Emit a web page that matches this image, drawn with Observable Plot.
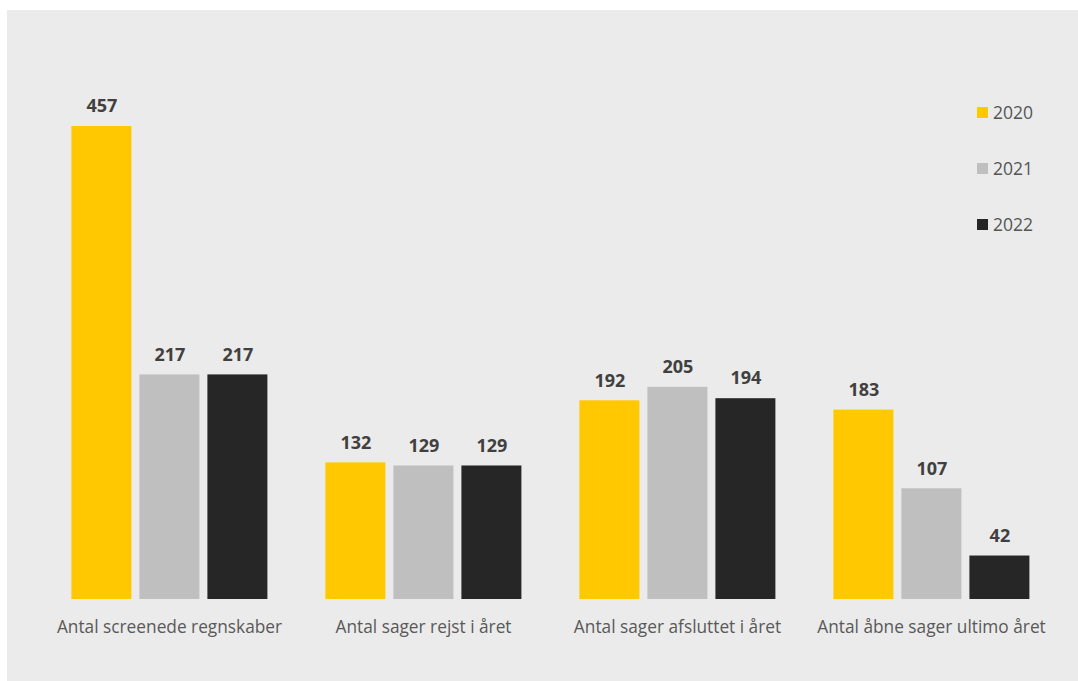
<!DOCTYPE html>
<html>
<head>
<meta charset="utf-8">
<script src="https://cdn.jsdelivr.net/npm/d3@7"></script>
<script src="https://cdn.jsdelivr.net/npm/@observablehq/plot@0.6"></script>
<style>
  html, body { margin: 0; padding: 0; background: #ffffff; }
  #wrap { position: relative; width: 1078px; height: 681px; overflow: hidden; font-family: "Open Sans", "Noto Sans", sans-serif; }
  #panel { position: absolute; left: 7px; top: 10px; right: 0; bottom: 0; background: #ebebeb; }
  #chart { position: absolute; left: 0; top: 0; }
  #legend { position: absolute; left: 977px; top: 0; }
  .item { position: absolute; left: 0; display: flex; align-items: center; white-space: nowrap; font-size: 17.5px; color: #555555; }
  .sw { width: 11px; height: 11px; margin-right: 5px; }
</style>
</head>
<body>
<div id="wrap">
  <div id="panel"></div>
  <div id="chart"></div>
  <div id="legend"></div>
</div>
<script>
const categories = ["Antal screenede regnskaber", "Antal sager rejst i året", "Antal sager afsluttet i året", "Antal åbne sager ultimo året"];
const years = ["2020", "2021", "2022"];
const colors = ["#ffc800", "#bfbfbf", "#262626"];
const values2020 = [457, 132, 192, 183];
const values2021 = [217, 129, 205, 107];
const values2022 = [217, 129, 194, 42];

const series = [values2020, values2021, values2022];
const data = [];
categories.forEach((c, i) => {
  years.forEach((y, j) => data.push({category: c, year: y, value: series[j][i]}));
});

const chart = Plot.plot({
  width: 1078,
  height: 681,
  marginTop: 126,
  marginBottom: 82,
  marginLeft: 45.6,
  marginRight: 23.5,
  style: {background: "transparent", fontFamily: "'Open Sans', 'Noto Sans', sans-serif"},
  fx: {domain: categories, paddingInner: 0.228, paddingOuter: 0.1, label: null, axis: null},
  x: {domain: years, paddingInner: 0.118, paddingOuter: 0, axis: null},
  y: {domain: [0, 457], axis: null},
  color: {domain: years, range: colors},
  marks: [
    Plot.barY(data, {fx: "category", x: "year", y: "value", fill: "year"}),
    Plot.text(data, {fx: "category", x: "year", y: "value", text: d => String(d.value), dy: -20, fontSize: 18, fontWeight: "bold", fill: "#404040"}),
    Plot.axisFx({domain: categories, anchor: "bottom", tickSize: 0, tickPadding: 21, fontSize: 17.3, color: "#595959", label: null})
  ]
});
document.getElementById("chart").appendChild(chart);

const legend = document.getElementById("legend");
const legendY = [112, 168, 224];
years.forEach((y, j) => {
  const it = document.createElement("div");
  it.className = "item";
  it.style.top = (legendY[j] - 12) + "px";
  it.style.height = "24px";
  const sw = document.createElement("span");
  sw.className = "sw";
  sw.style.background = colors[j];
  const t = document.createElement("span");
  t.textContent = y;
  it.appendChild(sw); it.appendChild(t);
  legend.appendChild(it);
});
</script>
</body>
</html>
